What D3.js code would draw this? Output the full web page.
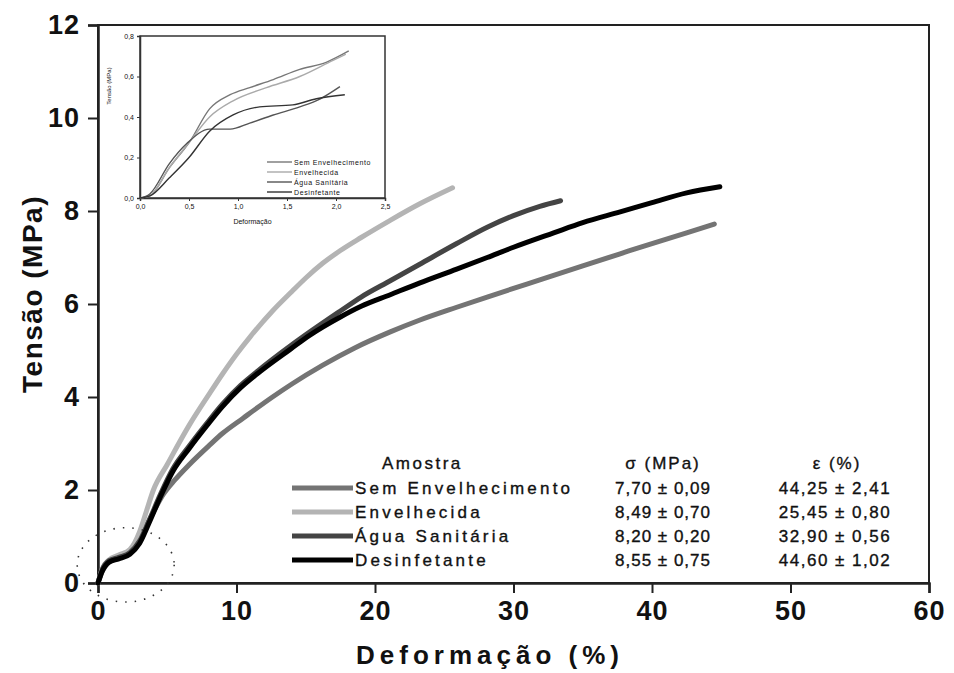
<!DOCTYPE html>
<html>
<head>
<meta charset="utf-8">
<script src="https://cdn.jsdelivr.net/npm/d3@7"></script>
<style>
  body { margin: 0; background: #fff; }
  text { font-family: "Liberation Sans", Arial, sans-serif; fill: #111; }
</style>
</head>
<body>
<div id="chart"></div>
<script>
const svgWidth = 954;
const svgHeight = 673;

const margin = { top: 25, right: 25, bottom: 90, left: 98 };
const width = svgWidth - margin.left - margin.right;
const height = svgHeight - margin.top - margin.bottom;

// series names, colours and table values
const seriesNames = ["Sem Envelhecimento", "Envelhecida", "Água Sanitária", "Desinfetante"];
const seriesColors = ["#747474", "#b4b4b4", "#444444", "#000000"];
const sigmaValues = ["7,70 ± 0,09", "8,49 ± 0,70", "8,20 ± 0,20", "8,55 ± 0,75"];
const epsValues = ["44,25 ± 2,41", "25,45 ± 0,80", "32,90 ± 0,56", "44,60 ± 1,02"];

const xTicks = [0, 10, 20, 30, 40, 50, 60];
const yTicks = [0, 2, 4, 6, 8, 10, 12];

// [deformação %, tensão MPa]
const semEnvelhecimento = [[0,0],[0.3,0.25],[0.8,0.45],[1.5,0.55],[2.3,0.68],[3,0.95],[3.7,1.35],[4.7,1.9],[5.5,2.2],[6.6,2.55],[8,2.95],[9,3.22],[10.5,3.55],[12.6,4.0],[14,4.28],[16.2,4.68],[18.5,5.05],[21.1,5.4],[23.2,5.65],[25.9,5.93],[28.1,6.15],[31.9,6.52],[35,6.82],[37.7,7.08],[40,7.3],[42.5,7.53],[44.5,7.72]];
const envelhecida = [[0,0],[0.3,0.3],[0.8,0.5],[1.5,0.6],[2.3,0.72],[3,1.1],[3.5,1.55],[4,2.0],[5,2.55],[6.6,3.4],[8,4.05],[9,4.5],[10,4.92],[11,5.3],[12.6,5.85],[14,6.27],[15,6.56],[16.2,6.87],[17.5,7.15],[19,7.43],[21.1,7.8],[23.2,8.15],[25.6,8.5]];
const aguaSanitaria = [[0,0],[0.3,0.28],[0.8,0.48],[1.5,0.55],[2.3,0.65],[3,0.9],[3.7,1.35],[4.5,1.9],[5.4,2.45],[6.6,2.95],[7.9,3.45],[9,3.85],[10.3,4.25],[11.5,4.55],[13.9,5.1],[15.3,5.4],[17.5,5.85],[19,6.15],[21.1,6.5],[23.2,6.85],[25.9,7.3],[28.1,7.65],[30,7.9],[31.9,8.1],[33.4,8.22]];
const desinfetante = [[0,0],[0.3,0.25],[0.8,0.45],[1.5,0.52],[2.3,0.62],[3,0.85],[3.7,1.3],[4.5,1.85],[5.4,2.4],[6.6,2.9],[7.9,3.4],[9,3.8],[10.3,4.2],[11.5,4.5],[13.9,5.03],[15.3,5.33],[17.5,5.72],[19,5.95],[21.1,6.2],[23.2,6.45],[25.9,6.75],[28.1,7.0],[30,7.22],[32.9,7.53],[35,7.75],[37.7,7.98],[40,8.18],[42.5,8.39],[44.9,8.52]];

// inset (zoom of the initial region)
const insetXTicks = [0, 0.5, 1.0, 1.5, 2.0, 2.5];
const insetYTicks = [0, 0.2, 0.4, 0.6, 0.8];
const insetSem = [[0,0],[0.1,0.01],[0.3,0.15],[0.51,0.28],[0.71,0.44],[0.92,0.51],[1.12,0.545],[1.36,0.585],[1.63,0.635],[1.9,0.67],[2.13,0.726]];
const insetEnv = [[0,0],[0.1,0.01],[0.3,0.15],[0.51,0.28],[0.71,0.40],[0.95,0.48],[1.29,0.545],[1.63,0.60],[1.97,0.68],[2.1,0.71]];
const insetAgua = [[0,0],[0.1,0.02],[0.3,0.17],[0.48,0.27],[0.71,0.34],[0.92,0.34],[1.12,0.37],[1.36,0.41],[1.63,0.45],[1.84,0.49],[2.04,0.55]];
const insetDesinf = [[0,0],[0.1,0.01],[0.3,0.1],[0.5,0.2],[0.71,0.33],[0.95,0.41],[1.22,0.45],[1.56,0.46],[1.8,0.49],[2.09,0.51]];

const mainSeries = [semEnvelhecimento, envelhecida, aguaSanitaria, desinfetante];
const insetSeries = [insetSem, insetEnv, insetAgua, insetDesinf];

const svg = d3.select("#chart")
  .append("svg")
  .attr("width", svgWidth)
  .attr("height", svgHeight);

const chartGroup = svg.append("g")
  .attr("transform", `translate(${margin.left}, ${margin.top})`);

const xLinearScale = d3.scaleLinear().domain([0, 60]).range([0, width]);
const yLinearScale = d3.scaleLinear().domain([0, 12]).range([height, 0]);

// frame
chartGroup.append("rect")
  .attr("width", width)
  .attr("height", height)
  .attr("fill", "none")
  .attr("stroke", "#222")
  .attr("stroke-width", 2);

// axes
const bottomAxis = d3.axisBottom(xLinearScale).tickValues(xTicks).tickSize(10).tickPadding(8);
const leftAxis = d3.axisLeft(yLinearScale).tickValues(yTicks).tickSize(10).tickPadding(8);

const xg = chartGroup.append("g")
  .attr("transform", `translate(0, ${height})`)
  .call(bottomAxis);
const yg = chartGroup.append("g").call(leftAxis);

[xg, yg].forEach(g => {
  g.select(".domain").attr("stroke", "#222").attr("stroke-width", 2.5);
  g.selectAll(".tick line").attr("stroke", "#222").attr("stroke-width", 2);
  g.selectAll(".tick text")
    .attr("font-family", "Liberation Sans, Arial, sans-serif")
    .attr("font-size", 27)
    .attr("font-weight", "bold")
    .attr("letter-spacing", 1)
    .attr("fill", "#111");
});

// axis titles
chartGroup.append("text")
  .attr("x", 392)
  .attr("y", height + 81)
  .attr("text-anchor", "middle")
  .attr("font-size", 26)
  .attr("font-weight", "bold")
  .attr("letter-spacing", 5)
  .text("Deformação (%)");

chartGroup.append("text")
  .attr("transform", "rotate(-90)")
  .attr("x", -(yLinearScale(6) - 10))
  .attr("y", -56)
  .attr("text-anchor", "middle")
  .attr("font-size", 28)
  .attr("font-weight", "bold")
  .attr("letter-spacing", 1.5)
  .text("Tensão (MPa)");

// curves
const line = d3.line()
  .x(d => xLinearScale(d[0]))
  .y(d => yLinearScale(d[1]))
  .curve(d3.curveMonotoneX);

chartGroup.selectAll("path.curve")
  .data(mainSeries)
  .join("path")
  .attr("class", "curve")
  .attr("d", line)
  .attr("fill", "none")
  .attr("stroke", (d, i) => seriesColors[i])
  .attr("stroke-width", 5)
  .attr("stroke-linejoin", "round")
  .attr("stroke-linecap", "round");

// dotted ellipse around the initial region
chartGroup.append("ellipse")
  .attr("cx", xLinearScale(2.0))
  .attr("cy", yLinearScale(0.39))
  .attr("rx", xLinearScale(3.5) - xLinearScale(0))
  .attr("ry", yLinearScale(0) - yLinearScale(0.8))
  .attr("fill", "none")
  .attr("stroke", "#333")
  .attr("stroke-width", 1.6)
  .attr("stroke-dasharray", "1.5 8");

// legend table
const legend = svg.append("g")
  .attr("transform", "translate(292, 0)")
  .attr("stroke", "#111")
  .attr("stroke-width", 0.35);
const rowY = i => 488 + i * 24;

legend.append("text").attr("x", 90).attr("y", 469)
  .attr("font-size", 17).attr("letter-spacing", 2.5).attr("text-anchor", "start")
  .text("Amostra");
legend.append("text").attr("x", 371).attr("y", 469)
  .attr("font-size", 17).attr("letter-spacing", 2).attr("text-anchor", "middle")
  .text("σ (MPa)");
legend.append("text").attr("x", 545).attr("y", 469)
  .attr("font-size", 17).attr("letter-spacing", 2).attr("text-anchor", "middle")
  .text("ε (%)");

seriesNames.forEach((name, i) => {
  legend.append("line")
    .attr("x1", 0).attr("x2", 61)
    .attr("y1", rowY(i)).attr("y2", rowY(i))
    .attr("stroke", seriesColors[i])
    .attr("stroke-width", 5);
  legend.append("text")
    .attr("x", 63).attr("y", rowY(i) + 6)
    .attr("font-size", 17).attr("letter-spacing", 3.2)
    .text(name);
  legend.append("text")
    .attr("x", 371).attr("y", rowY(i) + 6)
    .attr("font-size", 17).attr("letter-spacing", 1).attr("text-anchor", "middle")
    .text(sigmaValues[i]);
  legend.append("text")
    .attr("x", 543).attr("y", rowY(i) + 6)
    .attr("font-size", 17).attr("letter-spacing", 1.5).attr("text-anchor", "middle")
    .text(epsValues[i]);
});

// inset chart
const inset = { left: 140, top: 36, width: 245, height: 162 };
const insetGroup = svg.append("g")
  .attr("transform", `translate(${inset.left}, ${inset.top})`);

const ix = d3.scaleLinear().domain([0, 2.5]).range([0, inset.width]);
const iy = d3.scaleLinear().domain([0, 0.8]).range([inset.height, 0]);

insetGroup.append("rect")
  .attr("width", inset.width)
  .attr("height", inset.height)
  .attr("fill", "none")
  .attr("stroke", "#333")
  .attr("stroke-width", 1.5);

const fmt = d3.format(".1f");
const comma = v => fmt(v).replace(".", ",");

const ixg = insetGroup.append("g")
  .attr("transform", `translate(0, ${inset.height})`)
  .call(d3.axisBottom(ix).tickValues(insetXTicks).tickSize(3).tickPadding(3).tickFormat(comma));
const iyg = insetGroup.append("g")
  .call(d3.axisLeft(iy).tickValues(insetYTicks).tickSize(3).tickPadding(3).tickFormat(comma));

[ixg, iyg].forEach(g => {
  g.select(".domain").attr("stroke", "#333").attr("stroke-width", 1.5);
  g.selectAll(".tick line").attr("stroke", "#333");
  g.selectAll(".tick text")
    .attr("font-family", "Liberation Sans, Arial, sans-serif")
    .attr("font-size", 7)
    .attr("fill", "#444");
});

insetGroup.append("text")
  .attr("x", inset.width / 2 - 10)
  .attr("y", inset.height + 26)
  .attr("text-anchor", "middle")
  .attr("font-size", 7)
  .attr("fill", "#444")
  .text("Deformação");

insetGroup.append("text")
  .attr("transform", "rotate(-90)")
  .attr("x", -50)
  .attr("y", -29)
  .attr("text-anchor", "middle")
  .attr("font-size", 6)
  .attr("fill", "#444")
  .text("Tensão (MPa)");

const insetLine = d3.line()
  .x(d => ix(d[0]))
  .y(d => iy(d[1]))
  .curve(d3.curveMonotoneX);

const insetColors = ["#777", "#aaa", "#555", "#333"];
insetGroup.selectAll("path.icurve")
  .data(insetSeries)
  .join("path")
  .attr("class", "icurve")
  .attr("d", insetLine)
  .attr("fill", "none")
  .attr("stroke", (d, i) => insetColors[i])
  .attr("stroke-width", 1.4);

seriesNames.forEach((name, i) => {
  const yy = 126 + i * 10;
  insetGroup.append("line")
    .attr("x1", 127).attr("x2", 152)
    .attr("y1", yy).attr("y2", yy)
    .attr("stroke", insetColors[i])
    .attr("stroke-width", 1.4);
  insetGroup.append("text")
    .attr("x", 154).attr("y", yy + 2.5)
    .attr("font-size", 7)
    .attr("letter-spacing", 0.6)
    .attr("fill", "#444")
    .text(name);
});
</script>
</body>
</html>
